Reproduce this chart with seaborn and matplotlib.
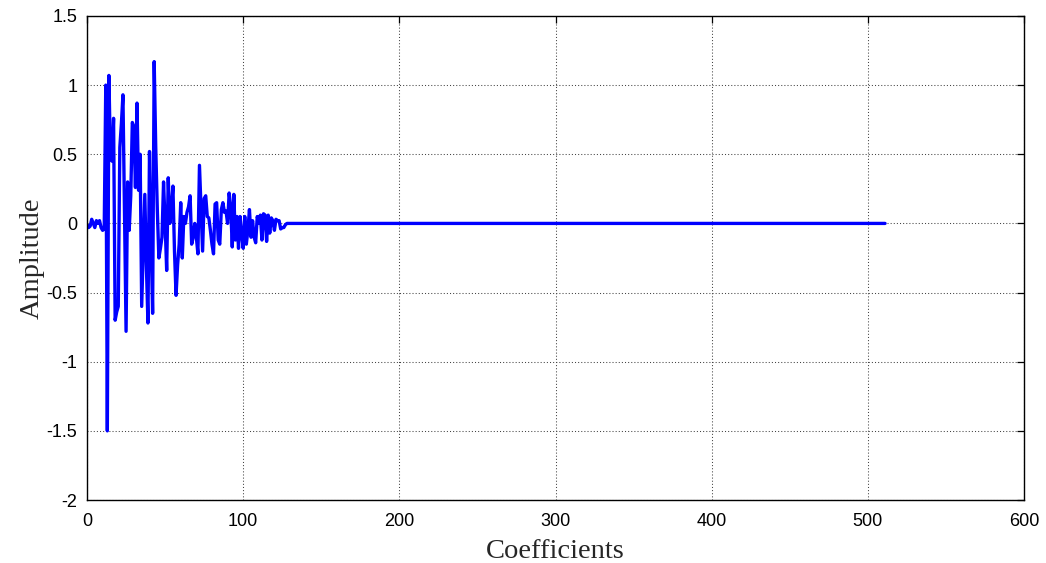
import numpy as np
import pandas as pd
import matplotlib
matplotlib.use("Agg")
import matplotlib.pyplot as plt
import seaborn as sns

# Detail coefficients (first 128 carry the signal energy, the rest are zero)
active_coeffs = [
    -0.01, -0.03, -0.02, 0.03, 0.00, -0.03, 0.02, 0.00, 0.02, -0.03,
    -0.05, -0.04, 1.00, -1.50, 1.07, 0.47, 0.45, 0.76, -0.70, -0.64,
    -0.60, 0.55, 0.72, 0.93, 0.08, -0.78, 0.30, -0.05, 0.20, 0.73,
    0.70, 0.26, 0.87, 0.24, 0.50, -0.60, -0.20, 0.21, -0.30, -0.72,
    0.52, -0.10, -0.65, 1.17, 0.55, 0.10, -0.25, -0.18, -0.10, 0.30,
    0.00, -0.34, 0.33, 0.00, 0.10, 0.27, -0.20, -0.52, -0.30, -0.15,
    0.15, -0.25, 0.05, 0.00, 0.08, 0.12, 0.20, -0.15, -0.10, 0.00,
    -0.10, -0.22, 0.42, 0.10, -0.20, 0.18, 0.20, 0.05, 0.04, -0.05,
    -0.15, -0.22, 0.14, 0.15, -0.12, -0.15, 0.10, 0.15, 0.08, 0.09,
    0.00, 0.22, 0.12, -0.17, 0.21, -0.12, 0.05, -0.18, 0.05, -0.08,
    -0.18, 0.05, -0.15, -0.05, 0.10, -0.10, 0.02, -0.10, -0.14, 0.05,
    0.00, 0.06, -0.12, 0.07, 0.06, -0.13, 0.06, -0.07, 0.04, 0.02,
    -0.05, 0.03, 0.02, 0.02, -0.04, -0.03, -0.03, -0.01,
]
zero_tail = [0.0] * (512 - len(active_coeffs))
coefficients = active_coeffs + zero_tail

x_ticks = [0, 100, 200, 300, 400, 500, 600]
y_ticks = [-2, -1.5, -1, -0.5, 0, 0.5, 1, 1.5]
y_tick_labels = ["-2", "-1.5", "-1", "-0.5", "0", "0.5", "1", "1.5"]

df = pd.DataFrame({"index": np.arange(len(coefficients)), "value": coefficients})

sns.set_style("white")
plt.rcParams["font.family"] = ["Liberation Sans", "DejaVu Sans"]

fig = plt.figure(figsize=(10.46, 5.63), dpi=100)
ax = fig.add_axes([0.0832, 0.1119, 0.8958, 0.8597])

sns.lineplot(data=df, x="index", y="value", ax=ax, color=(0, 0, 1),
             linewidth=2.4, estimator=None, sort=False)

ax.set_xlim(0, 600)
ax.set_ylim(-2, 1.5)
ax.set_xticks(x_ticks)
ax.set_xticklabels([str(t) for t in x_ticks])
ax.set_yticks(y_ticks)
ax.set_yticklabels(y_tick_labels)

ax.grid(True, color="#444444", linestyle=(0, (1, 2)), linewidth=0.75)
ax.set_axisbelow(True)

for side in ["top", "right", "bottom", "left"]:
    ax.spines[side].set_visible(True)
    ax.spines[side].set_color("black")
    ax.spines[side].set_linewidth(1.0)

ax.tick_params(direction="in", length=5, width=0.9, top=True, right=True,
               labelsize=13, colors="black")
ax.tick_params(axis="x", pad=9)
ax.tick_params(axis="y", pad=7)

ax.set_xlabel("Coefficients", family=["Liberation Serif", "DejaVu Serif"],
              fontsize=20.5, labelpad=7)
ax.set_ylabel("Amplitude", family=["Liberation Serif", "DejaVu Serif"],
              fontsize=20.5, labelpad=1)

fig.savefig("out.png", dpi=100, facecolor="white")
